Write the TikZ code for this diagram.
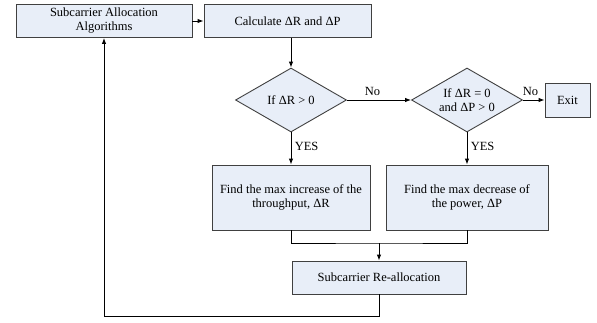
\documentclass[tikz,border=0pt]{standalone}
\usepackage{fontspec}
\setmainfont{Liberation Serif}
\usetikzlibrary{shapes.geometric,arrows.meta}
\definecolor{boxfill}{HTML}{E8EEF8}
\definecolor{boxline}{HTML}{404040}

\begin{document}
\begin{tikzpicture}[x=1pt,y=-1pt,font=\fontsize{12.5}{14}\selectfont]

\tikzset{bloc/.style={draw=boxline,fill=boxfill,line width=0.9pt,inner sep=0pt,align=center}, %boites
	test/.style={bloc,diamond,aspect=1.73,minimum width=111pt,minimum height=64pt}, %losanges
	fleche/.style={line width=0.9pt,-{Latex[length=6pt,width=4.5pt]}},
	trait/.style={line width=0.9pt}}

\useasboundingbox (0,0) rectangle (597,322);

%----------ligne du haut------------
\node[bloc,minimum width=176pt,minimum height=33pt] (algo) at (104,21) {Subcarrier Allocation\\Algorithms};
\node[bloc,minimum width=167pt,minimum height=33pt] (calc) at (287.5,21) {Calculate ΔR and ΔP};

%----------tests------------
\node[test] (testR) at (291,100) {If ΔR > 0};
\node[test] (testP) at (467,100) {If ΔR = 0\\and ΔP > 0};
\node[bloc,minimum width=45pt,minimum height=34pt] (exit) at (567.5,100) {Exit};

%----------recherche------------
\node[bloc,minimum width=158pt,minimum height=65pt] (incR) at (291,197.5) {Find the max increase of the\\throughput, ΔR};
\node[bloc,minimum width=162pt,minimum height=65pt] (decP) at (467,197.5) {Find the max decrease of\\the power, ΔP};
\node[bloc,minimum width=174pt,minimum height=33pt] (realloc) at (379,277.5) {Subcarrier Re-allocation};

\coordinate (jonc) at (379,243);
\coordinate (bas) at (379,316);

%fleches
\draw[fleche] (algo) -- (calc);
\draw[fleche] (calc.south -| testR) -- (testR);
\draw[fleche] (testR) -- node[above=1pt,pos=0.4] {No} (testP);
\draw[fleche] (testP) -- node[above=1pt,pos=0.35] {No} (exit);
\draw[fleche] (testR) -- node[right=0pt,pos=0.45] {YES} (incR);
\draw[fleche] (testP) -- node[right=0pt,pos=0.45] {YES} (decP);

%regroupement
\draw[trait] (incR) |- (jonc) -| (decP);
\draw[fleche] (jonc) -- (realloc);

%retour
\draw[fleche] (realloc) -- (bas) -| (algo);

\end{tikzpicture}
\end{document}
